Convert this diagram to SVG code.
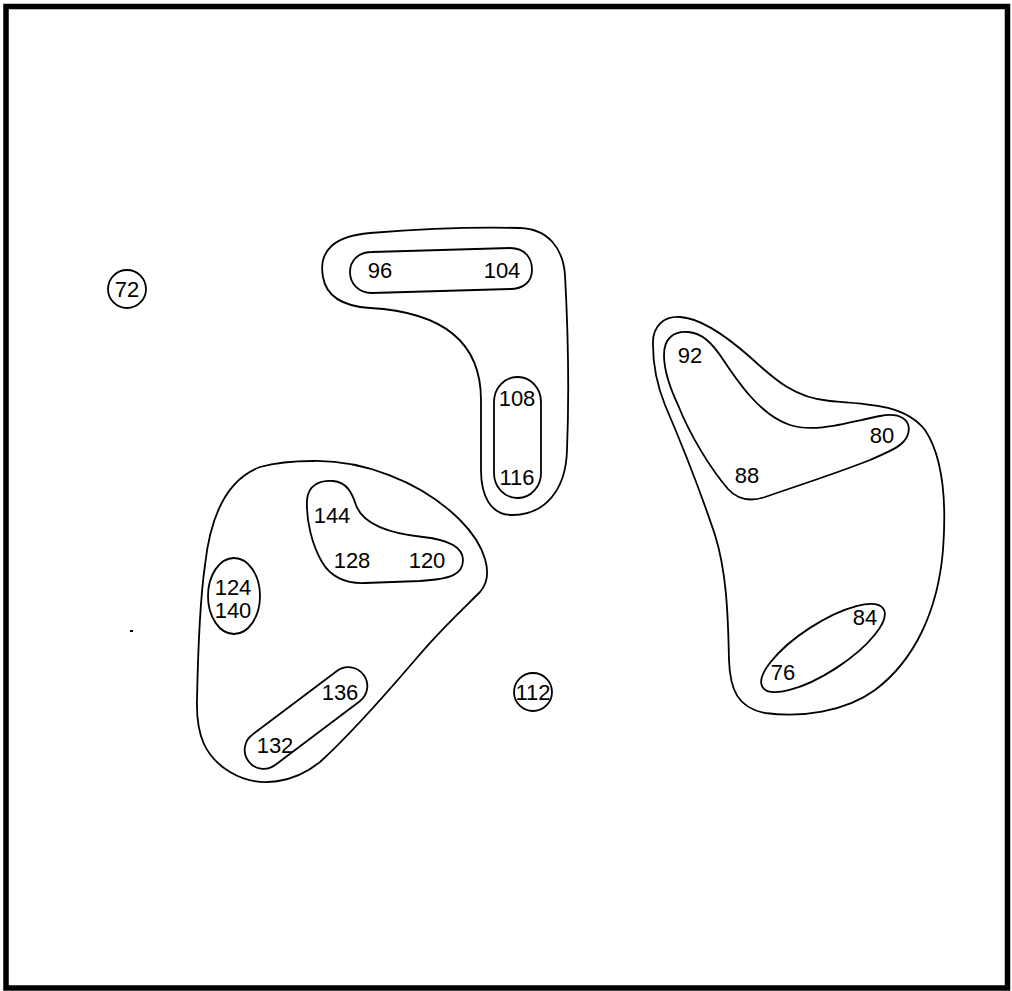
<svg xmlns="http://www.w3.org/2000/svg" width="1012" height="991" viewBox="0 0 1012 991">
<style>
.s{fill:none;stroke:#000;stroke-width:1.8}
text{font-family:"Liberation Sans",Arial,sans-serif;font-size:22px;fill:#000;text-anchor:middle}
</style>
<rect x="0" y="0" width="1012" height="991" fill="#fff"/>
<rect id="frame" x="6" y="6.5" width="1001.5" height="981.5" fill="none" stroke="#000" stroke-width="5.5"/>
<rect x="130" y="630" width="3" height="2" fill="#000"/>

<g id="n72">
<circle class="s" cx="127" cy="289" r="19"/>
<text x="127" y="297">72</text>
</g>

<g id="n112">
<circle class="s" cx="533" cy="692" r="19"/>
<text x="533" y="700">112</text>
</g>

<g id="clusterTop">
<path class="s" d="M323,277 C318,250 335,236 370,233 C420,229 480,227 520,228 C548,229 563,248 565,275 C568,330 569,400 567,450 C566,490 545,515 512,515 C490,515 481,495 481,470 L481,400 C481,340 440,312 370,308 C340,306 326,295 323,277 Z"/>
<g id="n96_104">
<path class="s" d="M372,252 L510,248 C525,248 532,258 532,270 C532,282 523,289 510,289 L372,293 C358,293 350,283 350,272 C350,261 358,252 372,252 Z"/>
<text x="380" y="278">96</text>
<text x="502" y="278">104</text>
</g>
<g id="n108_116">
<rect class="s" x="494" y="377" width="47" height="121" rx="23" ry="25"/>
<text x="517" y="406">108</text>
<text x="517" y="485">116</text>
</g>
</g>

<g id="clusterLeft">
<path class="s" d="M313,461 C360,460 420,480 460,520 C485,545 495,575 480,592 C460,612 440,630 415,660 C385,695 350,735 320,762 C295,782 260,790 230,772 C205,757 196,735 197,700 C198,650 200,600 205,565 C210,520 225,480 260,467 C278,462 295,461 313,461 Z"/>
<g id="n144_128_120">
<path class="s" d="M307,500 C308,485 320,480 333,481 C347,482 352,493 356,505 C362,522 385,533 423,537 C450,540 463,548 463,560 C463,575 450,579 420,581 L365,583 C345,584 330,576 322,562 C312,545 306,520 307,500 Z"/>
<text x="332" y="523">144</text>
<text x="352" y="568">128</text>
<text x="427" y="568">120</text>
</g>
<g id="n124_140">
<ellipse class="s" cx="234" cy="596" rx="26" ry="38"/>
<text x="233" y="595">124</text>
<text x="233" y="618">140</text>
</g>
<g id="n132_136">
<rect class="s" x="234" y="699" width="144" height="38" rx="19" ry="19" transform="rotate(-37 306 718)"/>
<text x="340" y="700">136</text>
<text x="275" y="753">132</text>
</g>
</g>

<g id="clusterRight">
<path class="s" d="M653,345 C652,325 665,316 680,317 C700,318 725,335 750,357 C775,380 795,398 830,401 C870,404 905,405 925,430 C945,460 946,510 943,550 C938,610 915,660 875,690 C845,712 800,718 765,713 C738,708 730,690 729,660 C728,610 726,570 715,535 C700,490 680,440 665,405 C657,385 653,365 653,345 Z"/>
<g id="n92_80_88">
<path class="s" d="M664,355 C664,338 674,331 688,332 C702,333 712,343 722,358 C738,382 760,415 790,425 C815,433 845,423 880,416 C900,412 912,420 908,434 C905,445 893,450 870,460 C840,472 800,485 765,497 C750,502 738,500 728,489 C710,468 690,435 678,405 C670,388 664,370 664,355 Z"/>
<text x="690" y="363">92</text>
<text x="882" y="443">80</text>
<text x="747" y="483">88</text>
</g>
<g id="n76_84">
<ellipse class="s" cx="823" cy="648" rx="72" ry="24" transform="rotate(-33 823 648)"/>
<text x="865" y="625">84</text>
<text x="783" y="680">76</text>
</g>
</g>

<g id="connectors"></g>
</svg>
